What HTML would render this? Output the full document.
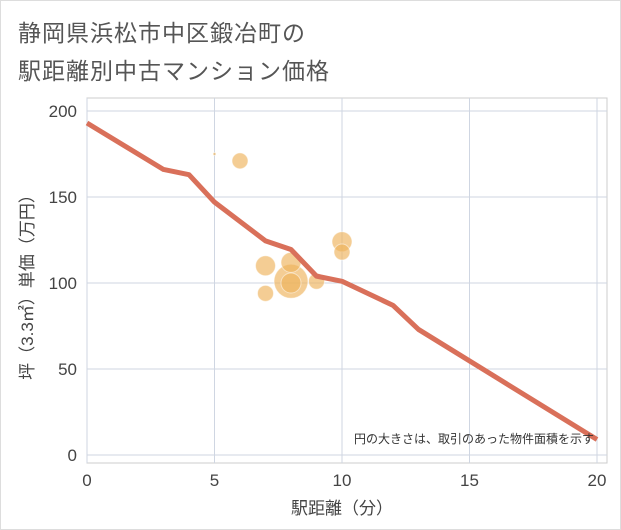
<!DOCTYPE html>
<html><head><meta charset="utf-8"><style>
body{margin:0;background:#fff;font-family:"Liberation Sans","Noto Sans CJK JP",sans-serif;}
#wrap{position:relative;width:619px;height:528px;border:1px solid #ddd;background:#fff;}
.t{position:absolute;left:17px;font-size:23px;color:#555;letter-spacing:1px}
</style></head><body>
<div id="wrap">
<div class="t" style="top:13px">静岡県浜松市中区鍛冶町の</div>
<div class="t" style="top:51px">駅距離別中古マンション価格</div>
<svg id="c" width="621" height="530" style="position:absolute;left:-1px;top:-1px"></svg>
</div>
<script>
const xTicks=[0,5,10,15,20];
const yTicks=[0,50,100,150,200];
const lineX=[0,3,4,5,7,8,9,10,12,13,20];
const lineY=[193,166,163,147,124.5,119.5,104,101,87,73,9];
const bubX=[5,6,7,7,8,8,8,9,10,10];
const bubY=[175,171,110,94,101,112,100,101,124,118];
const bubR=[1.5,8,10,8,17,10,10,8,10,8];
const svg=document.getElementById('c');const NS='http://www.w3.org/2000/svg';
const L=87,R=597,T=111,B=455;
const sx=v=>L+(R-L)*v/20, sy=v=>B-(B-T)*v/200;
function mk(t,a,p){const e=document.createElementNS(NS,t);for(const k in a)e.setAttribute(k,a[k]);(p||svg).appendChild(e);return e;}
let bg=mk('rect',{x:L,y:T-13,width:R-L+10,height:B-T+13+8,fill:'#fff',stroke:'#ccc'});


xTicks.forEach(v=>{let g=mk('line',{x1:sx(v),x2:sx(v),y1:T-13,y2:B+8,stroke:'#cfd6e2'});


let t=mk('text',{x:sx(v),y:486,'text-anchor':'middle','font-size':17,fill:'#444'});t.textContent=v;

});
yTicks.forEach(v=>{let g=mk('line',{x1:L,x2:R+10,y1:sy(v),y2:sy(v),stroke:'#cfd6e2'});


let t=mk('text',{x:77,y:sy(v)+6,'text-anchor':'end','font-size':17,fill:'#444'});t.textContent=v;

});
bubX.forEach((v,i)=>{let c=mk('circle',{cx:sx(v),cy:sy(bubY[i]),r:bubR[i],fill:'rgba(238,178,90,0.65)',stroke:'rgba(255,255,255,0.5)'});

});
let p=mk('polyline',{points:lineX.map((v,i)=>sx(v)+','+sy(lineY[i])).join(' '),fill:'none',stroke:'#d9705a','stroke-width':5,'stroke-linejoin':'round'});


let n=mk('text',{x:594,y:443,'text-anchor':'end','font-size':12,fill:'#333'});n.textContent='円の大きさは、取引のあった物件面積を示す';


let xt=mk('text',{x:sx(10),y:514,'text-anchor':'middle','font-size':17,fill:'#444'});xt.textContent='駅距離（分）';


let yt=mk('text',{x:0,y:0,'text-anchor':'middle','font-size':17,fill:'#444',transform:'translate(33,283) rotate(-90)'});yt.textContent='坪（3.3㎡）単価（万円）';


</script>
</body></html>
